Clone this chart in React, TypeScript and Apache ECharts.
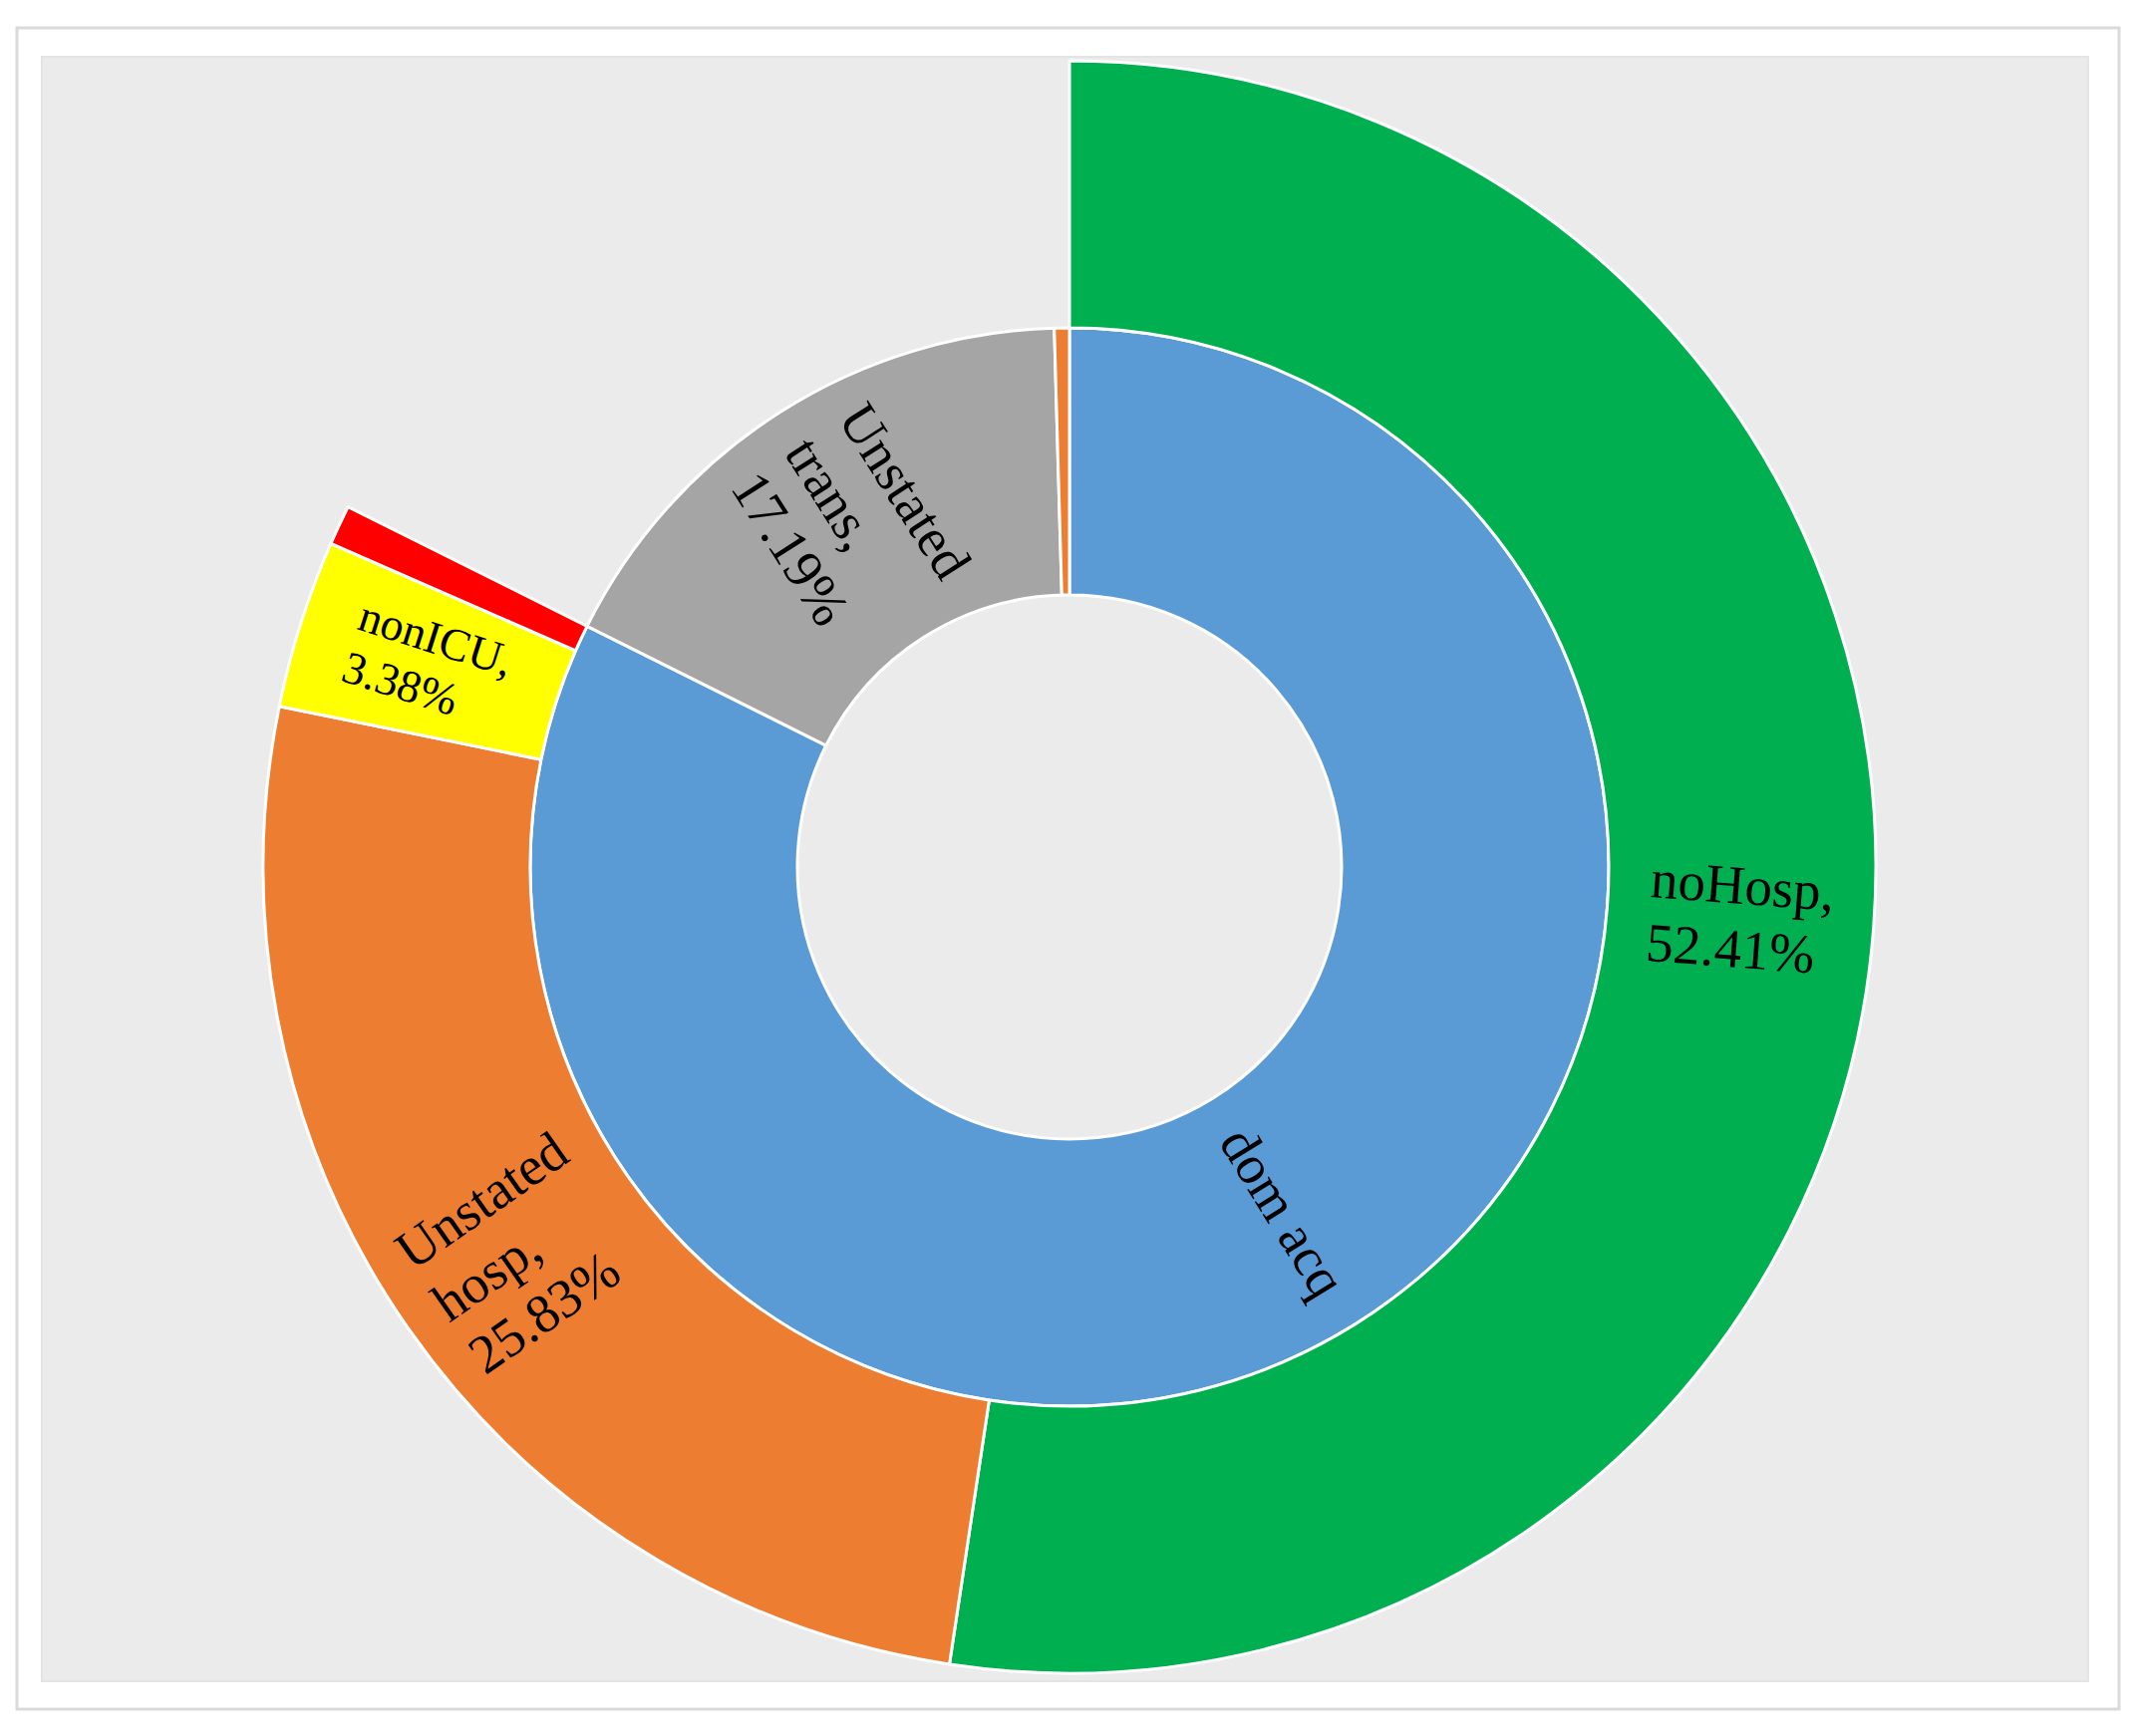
import React, { useEffect, useRef } from 'react';
import * as echarts from 'echarts';

// Inner ring (transmission)
const innerNames = ['dom acq', 'Unstated trans', 'imported'];
const innerColors = ['#5B9BD5', '#A5A5A5', '#ED7D31'];
const innerOtherValues = [17.19, 0.45]; // values for 'Unstated trans' and 'imported'
const innerShowValue = [false, true, false];
const innerShowLabel = [true, true, false];

// Outer ring (children of 'dom acq')
const outerNames = ['noHosp', 'Unstated hosp', 'nonICU', 'ICU'];
const outerValues = [52.41, 25.83, 3.38, 0.8];
const outerColors = ['#00B050', '#ED7D31', '#FFFF00', '#FF0000'];
const outerShowLabel = [true, true, true, false];
const outerFontSizes = [55, 55, 46, 55];

const FONT = "'Liberation Serif', 'Times New Roman', serif";

export default function App() {
  const ref = useRef<HTMLDivElement>(null);

  useEffect(() => {
    if (!ref.current) return;
    const chart = echarts.init(ref.current, undefined, { renderer: 'svg' });

    const fmt = (name: string, value: number, showValue: boolean) => {
      const lines = showValue
        ? [...name.split(' ').slice(0, -1), name.split(' ').slice(-1)[0] + ',', value.toFixed(2) + '%']
        : [name];
      return lines.map((l) => '{l|' + l + '}').join('\n');
    };
    const rich = (size: number) => ({
      l: {
        fontSize: size,
        lineHeight: Math.round(size * 1.17),
        fontFamily: FONT,
        color: '#000000',
        align: 'left',
      },
    });

    const children = outerNames.map((n, i) => ({
      name: n,
      value: outerValues[i],
      itemStyle: { color: outerColors[i] },
      label: {
        show: outerShowLabel[i],
        fontSize: outerFontSizes[i],
        formatter: fmt(n, outerValues[i], true),
        rich: rich(outerFontSizes[i]),
      },
    }));
    const domValue = outerValues.reduce((a, b) => a + b, 0);
    const innerValues = [domValue, ...innerOtherValues];

    const data = innerNames.map((n, i) => ({
      name: n,
      value: innerValues[i],
      itemStyle: { color: innerColors[i] },
      label: {
        show: innerShowLabel[i],
        formatter: fmt(n, innerValues[i], innerShowValue[i]),
        rich: rich(55),
      },
      ...(i === 0 ? { children } : {}),
    }));

    chart.setOption({
      animation: false,
      backgroundColor: '#ffffff',
      graphic: [
        {
          type: 'rect',
          z: 0,
          shape: { x: 17, y: 28, width: 2109, height: 1687 },
          style: { fill: '#ffffff', stroke: '#DADADA', lineWidth: 3 },
        },
        {
          type: 'rect',
          z: 1,
          shape: { x: 42, y: 57, width: 2053, height: 1630 },
          style: { fill: '#EBEBEB', stroke: '#E4E4E4', lineWidth: 2 },
        },
      ],
      series: [
        {
          type: 'sunburst',
          z: 5,
          center: [1073, 870],
          radius: [273, 809],
          startAngle: 90,
          clockwise: true,
          sort: null,
          nodeClick: false,
          emphasis: { disabled: true },
          itemStyle: { borderColor: '#ffffff', borderWidth: 3 },
          label: {
            rotate: 'radial',
            color: '#000000',
            fontFamily: FONT,
            fontSize: 55,
            align: 'center',
          },
          levels: [
            {},
            { r0: 273, r: 541 },
            { r0: 541, r: 809 },
          ],
          data,
        },
      ],
    });

    return () => chart.dispose();
  }, []);

  return (
    <div
      ref={ref}
      style={{ position: 'absolute', left: 0, top: 0, width: 2142, height: 1742 }}
    />
  );
}
